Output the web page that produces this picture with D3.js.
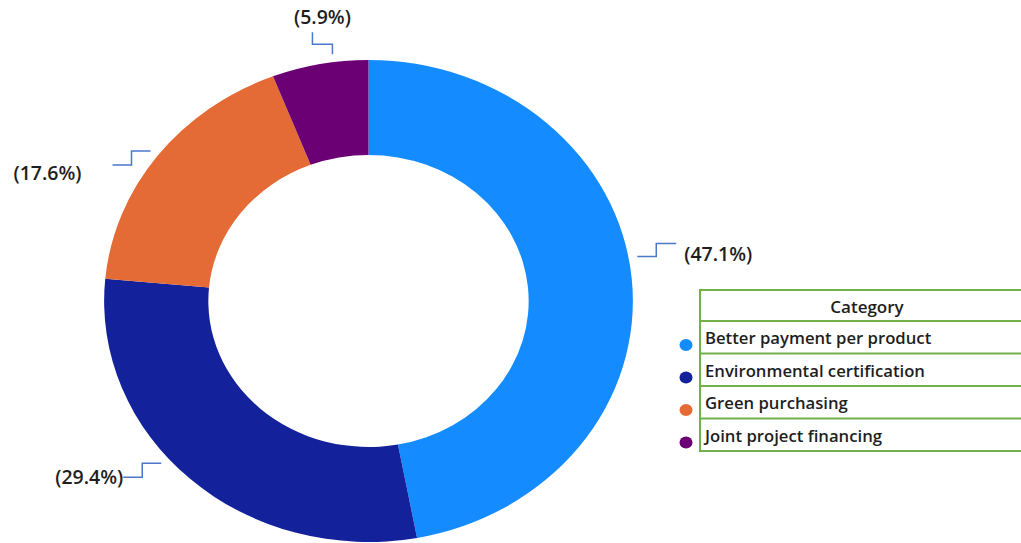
<!DOCTYPE html>
<html>
<head>
  <meta charset="utf-8">
  <title>Category donut</title>
  <style>
  body { margin: 0; background: #fff; }
  svg { display: block; }
  text { font-family: "Open Sans", "Noto Sans", sans-serif; font-weight: 600; fill: #1e1e1e; }
  </style>
</head>
<body>
  <svg width="1021" height="543"></svg>
  <script src="https://d3js.org/d3.v7.min.js"></script>
  <script>
  // data
  var categories = ["Better payment per product", "Environmental certification", "Green purchasing", "Joint project financing"];
  var counts = [8, 5, 3, 1];
  var colors = ["#148cff", "#13229b", "#e56b36", "#6a0073"];
  var legendTitle = "Category";

  var svg = d3.select("svg");
  var cx = 368.5, cy = 301,
      outerR = 241, innerR = 146,
      stretch = 1.097;   // the donut is a bit wider than tall

  var total = d3.sum(counts);
  var pct = d3.format(".1%");

  var pie = d3.pie().sort(null).value(function(d) { return d; });
  var arcs = pie(counts);

  var arc = d3.arc().innerRadius(innerR).outerRadius(outerR);

  var g = svg.append("g")
    .attr("transform", "translate(" + cx + "," + cy + ") scale(" + stretch + ",1)");

  g.selectAll("path")
    .data(arcs)
    .enter().append("path")
    .attr("d", arc)
    .attr("fill", function(d, i) { return colors[i]; });

  // data labels with little step-shaped leader lines
  var nudge = [-5, 7, 0, 3];   // degrees, where the label sits vs the slice middle
  var gap = [0, 0, 31, 0];      // extra space between leader end and text
  var lineColor = "#4c78cc";

  arcs.forEach(function(d, i) {
    var a = (d.startAngle + d.endAngle) / 2 + nudge[i] * Math.PI / 180;
    var r = outerR + 8;
    var px = cx + stretch * r * Math.sin(a),
        py = cy - r * Math.cos(a);
    var label = "(" + pct(d.value / total) + ")";
    var pts, tx, ty, anchor;

    if (Math.cos(a) > 0.9) {
      // top: goes up then sideways then up
      pts = [[px, py], [px, py - 10], [px - 20, py - 10], [px - 20, py - 22]];
      tx = px - 10; ty = py - 30; anchor = "middle";
    } else if (Math.sin(a) > 0) {
      pts = [[px, py], [px + 19, py], [px + 19, py - 13], [px + 39, py - 13]];
      tx = px + 47 + gap[i]; ty = py + 4; anchor = "start";
    } else {
      pts = [[px, py], [px - 19, py], [px - 19, py + 14], [px - 38, py + 14]];
      tx = px - 38 - gap[i]; ty = py + 21 + (gap[i] ? 8 : 0); anchor = "end";
    }

    svg.append("path")
      .attr("d", d3.line()(pts))
      .attr("fill", "none")
      .attr("stroke", lineColor)
      .attr("stroke-width", 1.5);

    svg.append("text")
      .attr("x", tx)
      .attr("y", ty)
      .attr("text-anchor", anchor)
      .style("font-size", "19.5px")
      .text(label);
  });

  // legend table
  var lx = 700, lw = 336;
  var rowY = d3.scaleLinear().domain([0, 1]).range([321, 353.5]);
  var legend = svg.append("g");
  var border = "#72b04a";

  legend.append("rect")
    .attr("x", lx).attr("y", 290)
    .attr("width", lw).attr("height", rowY(categories.length) - 290)
    .attr("fill", "none")
    .attr("stroke", border)
    .attr("stroke-width", 2);

  legend.append("text")
    .attr("x", lx + lw / 2 - 1)
    .attr("y", 313)
    .attr("text-anchor", "middle")
    .style("font-size", "17px")
    .text(legendTitle);

  categories.forEach(function(c, i) {
    legend.append("line")
      .attr("x1", lx).attr("x2", lx + lw)
      .attr("y1", rowY(i)).attr("y2", rowY(i))
      .attr("stroke", border)
      .attr("stroke-width", 2);

    legend.append("ellipse")
      .attr("cx", 686)
      .attr("cy", rowY(i) + 24)
      .attr("rx", 6.5).attr("ry", 6)
      .attr("fill", colors[i]);

    legend.append("text")
      .attr("x", lx + 5)
      .attr("y", rowY(i) + 23)
      .style("font-size", "16.7px")
      .text(c);
  });
  </script>
</body>
</html>
